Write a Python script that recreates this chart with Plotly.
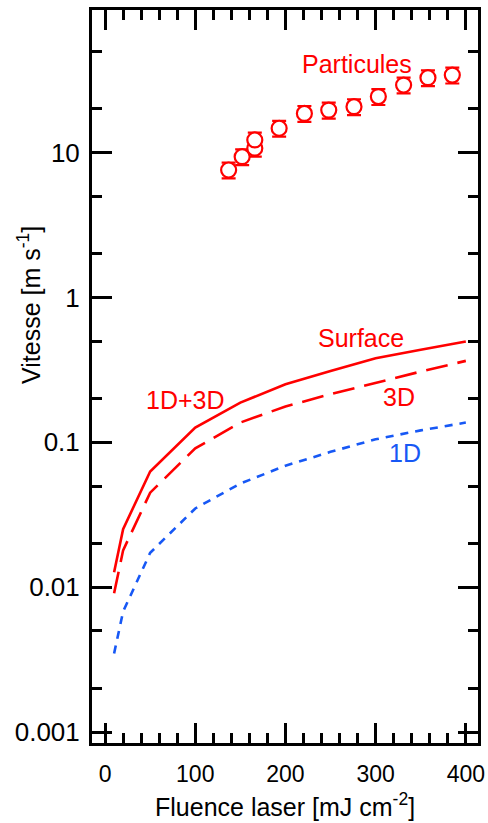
import plotly.graph_objects as go

# ---- data ----
fluence_model = [10, 20, 50, 100, 150, 200, 250, 300, 350, 400]
v_surface = [0.0127, 0.0252, 0.063, 0.1265, 0.188, 0.252, 0.311, 0.381, 0.435, 0.496]
v_3d = [0.0091, 0.018, 0.045, 0.091, 0.137, 0.177, 0.215, 0.258, 0.308, 0.365]
v_1d = [0.0035, 0.0068, 0.0173, 0.035, 0.052, 0.069, 0.086, 0.105, 0.121, 0.137]

fluence_part = [137, 152, 166, 166, 193, 221, 248, 276, 303, 331, 358, 385]
v_part = [7.57, 9.35, 10.7, 12.2, 14.7, 18.6, 19.6, 20.7, 24.3, 29.2, 32.8, 34.2]

x_ticks = [0, 100, 200, 300, 400]
y_tickvals = [0.001, 0.01, 0.1, 1, 10]
y_ticktext = ["0.001", "0.01", "0.1", "1", "10"]

RED = "#ff0000"
BLUE = "#1758f5"
FONT = "Arial, Liberation Sans, sans-serif"

fig = go.Figure()
fig.add_trace(go.Scatter(x=fluence_model, y=v_surface, mode="lines",
                         line=dict(color=RED, width=2.6)))
fig.add_trace(go.Scatter(x=fluence_model, y=v_3d, mode="lines",
                         line=dict(color=RED, width=2.6, dash="22px,10px")))
fig.add_trace(go.Scatter(x=fluence_model, y=v_1d, mode="lines",
                         line=dict(color=BLUE, width=2.6, dash="8px,7px")))
fig.add_trace(go.Scatter(x=fluence_part, y=v_part, mode="markers",
                         marker=dict(symbol="circle", size=15, color="white",
                                     line=dict(color=RED, width=2.2)),
                         error_y=dict(type="percent", value=12.5, color=RED,
                                      thickness=2.2, width=7)))

axis_common = dict(showline=True, linecolor="black", linewidth=3, mirror="ticks",
                   ticks="inside", tickcolor="black", tickwidth=2.5, ticklen=20,
                   showgrid=False, zeroline=False, automargin=False)

fig.update_xaxes(range=[-14.5, 413.5], tickvals=x_ticks,
                 tickfont=dict(family=FONT, size=23, color="black"),
                 ticklabelstandoff=8,
                 minor=dict(ticks="inside", ticklen=10, tickwidth=2.5,
                            tickcolor="black", dtick=20, showgrid=False),
                 **axis_common)
fig.update_yaxes(type="log", range=[-3.074, 1.983], tickvals=y_tickvals,
                 ticktext=y_ticktext,
                 tickfont=dict(family=FONT, size=26, color="black"),
                 ticklabelstandoff=4,
                 minor=dict(ticks="inside", ticklen=10, tickwidth=2.5,
                            tickcolor="black", showgrid=False),
                 **axis_common)

ann_font = dict(family=FONT, size=25, color=RED)
annotations = [
    dict(x=279.4, y=1.610, text="Particules", font=ann_font),
    dict(x=283.3, y=-0.279, text="Surface", font=ann_font),
    dict(x=88.7, y=-0.707, text="1D+3D", font=ann_font),
    dict(x=325.5, y=-0.686, text="3D", font=ann_font),
    dict(x=332.7, y=-1.072, text="1D", font=dict(family=FONT, size=25, color=BLUE)),
]
for a in annotations:
    a.update(xref="x", yref="y", showarrow=False, xanchor="center", yanchor="middle")

annotations.append(dict(xref="paper", yref="paper", x=0.5, y=0, yshift=-62,
                        xanchor="center", yanchor="middle", showarrow=False,
                        text="Fluence laser [mJ cm<sup>-2</sup>]",
                        font=dict(family=FONT, size=25, color="black")))
annotations.append(dict(xref="paper", yref="paper", x=0, xshift=-63, y=0.5976,
                        xanchor="center", yanchor="middle", showarrow=False,
                        textangle=-90, text="Vitesse [m s<sup>-1</sup>]",
                        font=dict(family=FONT, size=25, color="black")))

fig.update_layout(width=488, height=823, showlegend=False,
                  margin=dict(l=92, r=10, t=10, b=80),
                  paper_bgcolor="white", plot_bgcolor="white",
                  annotations=annotations)

fig.write_html("out.html", config={"displayModeBar": False},
               post_script="document.body.style.margin='0';document.body.style.overflow='hidden';")
